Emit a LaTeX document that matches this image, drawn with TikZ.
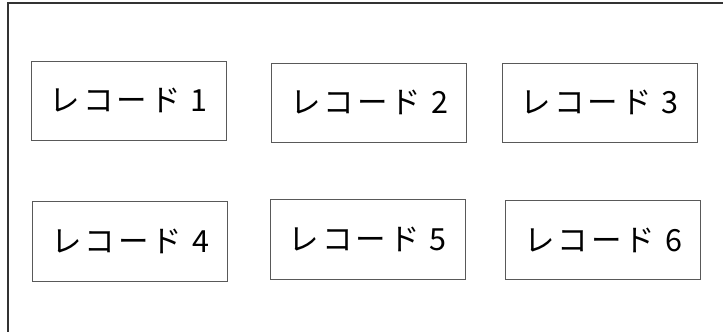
\documentclass[tikz,border=0pt]{standalone}
\usepackage{fontspec}
\newfontfamily\jpfont[LetterSpace=10]{Noto Sans CJK JP}
\tikzset{
  recbox/.style={draw=black!65, line width=0.9pt, minimum width=195pt, minimum height=79.5pt, inner sep=0pt, font=\jpfont\fontsize{30.5pt}{32pt}\selectfont, text=black},
  frameline/.style={draw=black!80, line width=1.1pt}
}
\begin{document}
\begin{tikzpicture}[x=1pt,y=-1pt]
\useasboundingbox (0,0) rectangle (723,332);
\coordinate (fbl) at (8,332);
\coordinate (ftl) at (8,3);
\coordinate (ftr) at (723,3);
\draw[frameline] (fbl) -- (ftl) -- (ftr);
\node[recbox] (r1) at (128.5,100.7) {レコード 1};
\node[recbox] (r2) at (369.3,102.7) {レコード 2};
\node[recbox] (r3) at (599.8,102.7) {レコード 3};
\node[recbox] (r4) at (130.3,241.2) {レコード 4};
\node[recbox] (r5) at (367.5,239.5) {レコード 5};
\node[recbox] (r6) at (603.3,240) {レコード 6};
\end{tikzpicture}
\end{document}
